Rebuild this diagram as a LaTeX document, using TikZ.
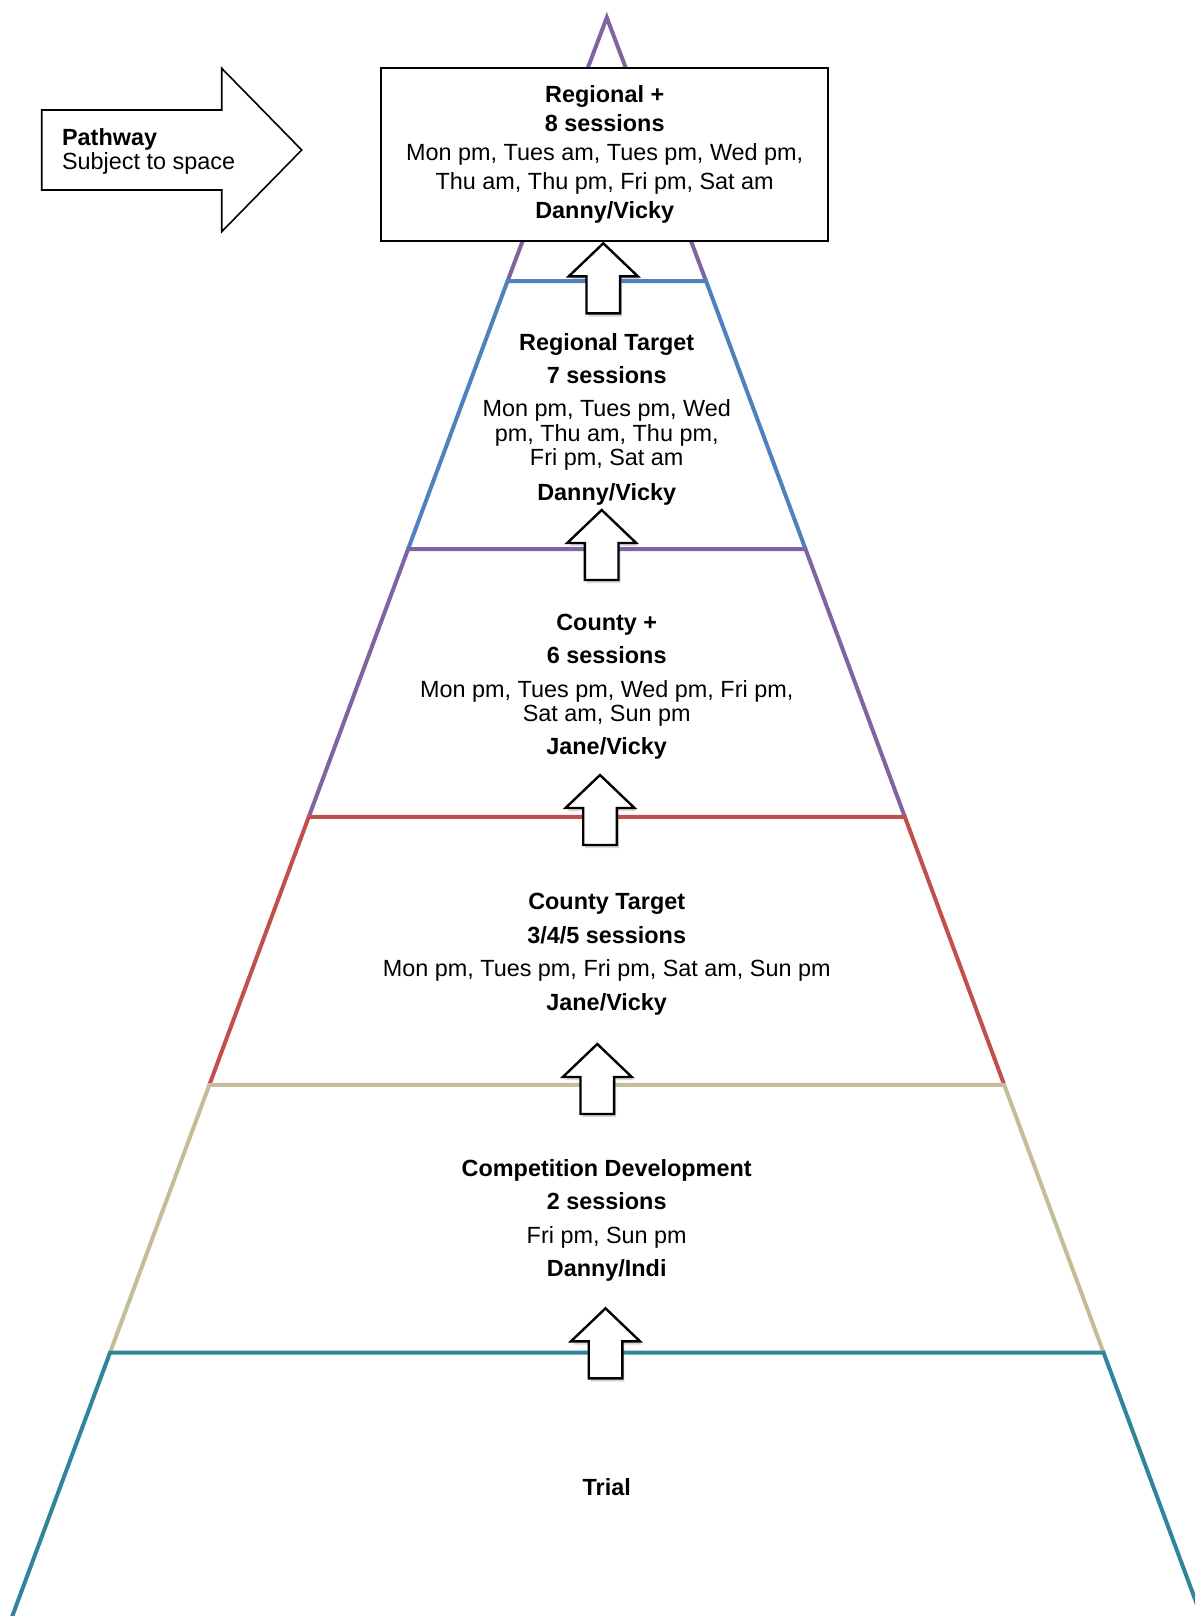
\documentclass[tikz,border=0pt]{standalone}
\usepackage{fontspec}
\setmainfont{Liberation Sans}
\usetikzlibrary{shadows}
\definecolor{pyrpurple}{HTML}{8064A2}
\definecolor{pyrblue}{HTML}{4F81BD}
\definecolor{pyrred}{HTML}{C0504D}
\definecolor{pyrtan}{HTML}{C4BD97}
\definecolor{pyrteal}{HTML}{31849B}
\lineskiplimit=-5pt
\begin{document}
\begin{tikzpicture}[x=0.5pt,y=-0.5pt,
  band/.style={line width=2pt},
  txt/.style={align=center,inner sep=0pt,font=\fontsize{11.7}{12.1}\selectfont},
  topbox/.style={draw=black,line width=1pt,fill=white,minimum width=223.5pt,minimum height=86.25pt,
    align=center,inner sep=0pt,font=\fontsize{11.7}{14.6}\selectfont},
  uparrow/.style={draw=black,line width=1.2pt,fill=white,
    drop shadow={shadow xshift=1pt,shadow yshift=-1.6pt,opacity=0.3}},
  pathway/.style={draw=black,line width=0.8pt,fill=white},
]
\clip (0,0) rectangle (1195,1616);
% pyramid bands
\draw[band,draw=pyrpurple] (507.5,281.2) -- (606.8,17.5) -- (706.1,281.2);
\foreach \k/\col in {1/pyrblue,2/pyrpurple,3/pyrred,4/pyrtan,5/pyrteal}
  \draw[band,draw=\col] ({606.8-99.35*(\k+1)},{13.4+267.84*(\k+1)})
    -- ({606.8-99.35*\k},{13.4+267.84*\k}) -- ({606.8+99.35*\k},{13.4+267.84*\k})
    -- ({606.8+99.35*(\k+1)},{13.4+267.84*(\k+1)});
% top level
\node[topbox] (regplus) at (604.7,154.5)
  {\textbf{Regional +}\\\textbf{8 sessions}\\Mon pm, Tues am, Tues pm, Wed pm,\\
   Thu am, Thu pm, Fri pm, Sat am\\\textbf{Danny/Vicky}};
% pathway arrow
\draw[pathway] (41.7,110) -- (221.7,110) -- (221.7,68.3) -- (301.7,150)
  -- (221.7,231.7) -- (221.7,190) -- (41.7,190) -- cycle;
\node[txt,align=left,anchor=west] (pathtxt) at (61.7,151.3) {\textbf{Pathway}\\Subject to space};
% up arrows
\foreach \ax/\ay in {603.3/243.3,601.7/510,600/775,597.3/1044,605.5/1308.3}
  \draw[uparrow,shift={(\ax,\ay)}] (0,0) -- (34.5,33) -- (16.8,33) -- (16.8,70)
    -- (-16.8,70) -- (-16.8,33) -- (-34.5,33) -- cycle;
% band texts
\node[txt] (regtgt) at (606.7,419.2)
  {\textbf{Regional Target}\\[4.6pt]\textbf{7 sessions}\\[4.6pt]Mon pm, Tues pm, Wed\\
   pm, Thu am, Thu pm,\\Fri pm, Sat am\\[5.4pt]\textbf{Danny/Vicky}};
\node[txt] (ctyplus) at (606.7,686.7)
  {\textbf{County +}\\[4.6pt]\textbf{6 sessions}\\[4.6pt]Mon pm, Tues pm, Wed pm, Fri pm,\\
   Sat am, Sun pm\\[4.6pt]\textbf{Jane/Vicky}};
\node[txt] (ctytgt) at (606.7,954.2)
  {\textbf{County Target}\\[4.6pt]\textbf{3/4/5 sessions}\\[4.6pt]Mon pm, Tues pm, Fri pm, Sat am, Sun pm\\[4.6pt]
   \textbf{Jane/Vicky}};
\node[txt] (compdev) at (606.7,1220.5)
  {\textbf{Competition Development}\\[4.6pt]\textbf{2 sessions}\\[4.6pt]Fri pm, Sun pm\\[4.6pt]\textbf{Danny/Indi}};
\node[txt] (trial) at (606.7,1487) {\textbf{Trial}};
\end{tikzpicture}
\end{document}
